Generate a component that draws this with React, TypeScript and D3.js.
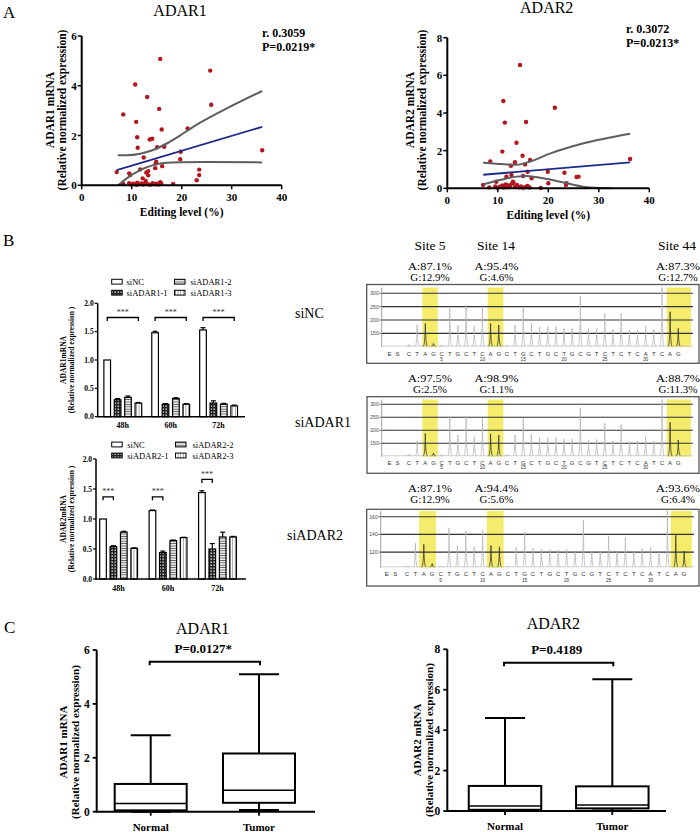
import React from "react";
import * as d3 from "d3";

const SERIF = "'Liberation Serif','Times New Roman',serif";
const SANS = "'Liberation Sans',Arial,sans-serif";

// ---------- Panel A data ----------
const adar1Scatter: [number, number][] = [
  [15.7, 5.08], [25.7, 4.61], [10.7, 4.05], [13.1, 3.55], [25.9, 3.24], [15.5, 3.07], [8.3, 2.85],
  [10.9, 2.55], [16.0, 2.24], [21.2, 2.28], [11.1, 1.93], [13.6, 1.84], [14.1, 1.87], [11.2, 1.51],
  [15.1, 1.53], [16.5, 1.55], [36.1, 1.41], [19.8, 1.35], [12.4, 1.12], [14.9, 0.95], [14.8, 0.88],
  [19.7, 1.05], [7.0, 0.53], [9.5, 0.48], [9.7, 0.41], [11.7, 0.64], [12.9, 0.51], [13.3, 0.57],
  [13.3, 0.40], [12.2, 0.28], [14.7, 0.69], [16.1, 0.77], [23.5, 0.63], [23.5, 0.41], [23.0, 0.20],
  [12.8, 0.17], [8.3, 0.05], [9.5, 0.08], [9.9, 0.03], [10.3, 0.06], [10.9, 0.02], [11.1, 0.10],
  [11.4, 0.04], [11.9, 0.07], [12.3, 0.03], [12.7, 0.09], [13.1, 0.05], [13.7, 0.02], [14.2, 0.08],
  [14.7, 0.04], [15.0, 0.06], [15.4, 0.03], [15.7, 0.12], [15.9, 0.07], [18.3, 0.05],
];
const adar1Fit: [number, number][] = [[7.0, 0.61], [36.1, 2.35]];
const adar1Upper: [number, number][] = [[7.2, 1.21], [9, 1.21], [11.7, 1.27], [14, 1.4], [17, 1.68], [19.5, 1.98], [22.3, 2.35], [27.7, 2.95], [36.1, 3.79]];
const adar1Lower: [number, number][] = [[7.3, 0], [9, 0.28], [11.7, 0.61], [14.3, 0.81], [17, 0.91], [19.7, 0.93], [25, 0.94], [36.1, 0.92]];

const adar2Scatter: [number, number][] = [
  [14.4, 6.55], [11.1, 4.64], [21.3, 4.28], [11.4, 3.49], [15.6, 3.52], [13.7, 2.42], [10.9, 1.95],
  [14.9, 1.73], [16.4, 1.5], [36.2, 1.56], [8.5, 1.42], [13.4, 1.38], [12.6, 1.2], [15.4, 1.27],
  [15.9, 0.88], [19.9, 0.88], [23.2, 0.83], [26.0, 0.62], [25.6, 0.6], [15.0, 0.65], [12.7, 0.71],
  [16.7, 0.53], [11.7, 0.62], [9.7, 0.35], [7.1, 0.18], [20.0, 0.27], [23.6, 0.27], [23.5, 0.18],
  [8.3, 0.05], [9.5, 0.1], [9.9, 0.03], [10.4, 0.08], [10.9, 0.15], [11.2, 0.04], [11.6, 0.2],
  [12.0, 0.06], [12.4, 0.12], [12.8, 0.25], [13.1, 0.3], [13.4, 0.08], [13.8, 0.18], [14.2, 0.05],
  [14.6, 0.1], [15.0, 0.03], [15.5, 0.07], [15.9, 0.12], [16.3, 0.04], [18.5, 0.02], [13.0, 0.35], [12.2, 0.15],
];
const adar2Fit: [number, number][] = [[7.1, 0.72], [36.2, 1.38]];
const adar2Upper: [number, number][] = [[7.1, 1.36], [9.7, 1.31], [12, 1.26], [13.7, 1.25], [16.4, 1.42], [20.3, 1.84], [27, 2.39], [36.2, 2.9]];
const adar2Lower: [number, number][] = [[7.1, 0.21], [10.4, 0.44], [13.7, 0.62], [15.7, 0.66], [19, 0.53], [23.6, 0.27], [28.3, 0.04], [32.6, 0]];

const editTicks = [0, 10, 20, 30, 40];
const adar1Ticks = [0, 2, 4, 6];
const adar2Ticks = [0, 2, 4, 6, 8];

// ---------- Panel B bars ----------
const timepoints = ["48h", "60h", "72h"];
const kd1Series = ["siNC", "siADAR1-1", "siADAR1-2", "siADAR1-3"];
const kd1Values = [[1.0, 0.30, 0.34, 0.24], [1.48, 0.22, 0.32, 0.22], [1.53, 0.24, 0.22, 0.19]];
const kd1Err = [[0, 0.02, 0.025, 0.01], [0.025, 0.01, 0.015, 0.01], [0.04, 0.04, 0.015, 0.015]];
const kd2Series = ["siNC", "siADAR2-1", "siADAR2-2", "siADAR2-3"];
const kd2Values = [[1.0, 0.54, 0.78, 0.51], [1.14, 0.44, 0.64, 0.69], [1.44, 0.50, 0.70, 0.70]];
const kd2Err = [[0, 0.015, 0.015, 0.01], [0.01, 0.025, 0.01, 0.005], [0.03, 0.09, 0.08, 0.01]];
const kdTicks = [0, 0.5, 1.0, 1.5, 2.0];
const kd1Sig = [{ t: "48h", from: 0, to: 3, v: 1.75 }, { t: "60h", from: 0, to: 3, v: 1.75 }, { t: "72h", from: 0, to: 3, v: 1.75 }];
const kd2Sig = [{ t: "48h", from: 0, to: 1, v: 1.37 }, { t: "60h", from: 0, to: 1, v: 1.37 }, { t: "72h", from: 0, to: 1, v: 1.66 }];

// ---------- Panel B chromatograms ----------
const seqBases = "CTAGCTGCTCAGCTGCTGCTGCGTCTCTCATCAG".split("");
const seqNumbers = [5, 10, 15, 20, 25, 30];
const siteNames = ["Site 5", "Site 14", "Site 44"];
const siNCPct = { A: [87.1, 95.4, 87.3], G: [12.9, 4.6, 12.7] };
const siADAR1Pct = { A: [97.5, 98.9, 88.7], G: [2.5, 1.1, 11.3] };
const siADAR2Pct = { A: [87.1, 94.4, 93.6], G: [12.9, 5.6, 6.4] };
const siNCPeaks = [108, 183, 187, 112, 106, 250, 181, 256, 178, 250, 187, 181, 106, 181, 250, 187, 175, 175, 175, 169, 169, 290, 169, 169, 225, 165, 225, 162, 160, 178, 165, 330, 231, 169];
const siADAR1Peaks = [108, 160, 188, 112, 106, 252, 182, 255, 176, 246, 186, 182, 106, 182, 246, 186, 172, 172, 172, 167, 167, 287, 163, 165, 227, 159, 223, 156, 159, 176, 159, 330, 231, 163];
const siADAR2Peaks = [104, 130, 129, 107, 104, 147, 127, 144, 126, 145, 127.5, 126, 104, 125, 143, 124, 123.4, 123, 122.3, 123, 121.5, 156, 121, 120.4, 138, 120.4, 136.6, 120, 124, 125.3, 120.4, 175, 139, 121];
const gridBig = [150, 200, 250, 300];
const gridSmall = [120, 140, 160];

// ---------- Panel C ----------
const boxCats = ["Normal", "Tumor"];
const adar1Box = [
  { min: 0, q1: 0.05, med: 0.3, q3: 1.03, max: 2.84 },
  { min: 0.06, q1: 0.33, med: 0.8, q3: 2.16, max: 5.1 },
];
const adar2Box = [
  { min: 0, q1: 0.06, med: 0.25, q3: 1.24, max: 4.6 },
  { min: 0.02, q1: 0.13, med: 0.3, q3: 1.22, max: 6.52 },
];

type Pt = [number, number];

function RotLabel({ x, y, text, size, bold = true }: any) {
  return (
    <text transform={`translate(${x},${y}) rotate(-90)`} textAnchor="middle" dominantBaseline="central"
      fontSize={size} fontWeight={bold ? "bold" : "normal"} fontFamily={SERIF}>{text}</text>
  );
}

function Scatter({ pts, fit, upper, lower, x0, x1, yBottom, yTop, yMax, yTicks, title, titleX, titleY, rText, pText, annX, annY, gene, labX, labY }: any) {
  const xs = d3.scaleLinear().domain([0, 40]).range([x0, x1]);
  const ys = d3.scaleLinear().domain([0, yMax]).range([yBottom, yTop]);
  const line = d3.line<Pt>().x((d) => xs(d[0])).y((d) => ys(d[1])).curve(d3.curveMonotoneX);
  return (
    <g>
      <text x={titleX} y={titleY} textAnchor="middle" dominantBaseline="central" fontSize={16}>{title}</text>
      <text x={annX} y={annY} dominantBaseline="central" fontSize={12} fontWeight="bold">{rText}</text>
      <text x={annX} y={annY + 14} dominantBaseline="central" fontSize={12} fontWeight="bold">{pText}</text>
      {pts.map((d: Pt, i: number) => (
        <circle key={i} cx={xs(d[0])} cy={ys(d[1])} r={2.2} fill="#b3161c" />
      ))}
      <path d={line(upper) || ""} fill="none" stroke="#5e5e5e" strokeWidth={2} />
      <path d={line(lower) || ""} fill="none" stroke="#5e5e5e" strokeWidth={2} />
      <path d={line(fit) || ""} fill="none" stroke="#1b2a8a" strokeWidth={1.8} />
      <line x1={x0} x2={x1} y1={yBottom} y2={yBottom} stroke="#000" strokeWidth={2} />
      <line x1={x0} x2={x0} y1={yBottom + 1} y2={yTop} stroke="#000" strokeWidth={2} />
      {editTicks.map((t) => (
        <g key={t}>
          <line x1={xs(t)} x2={xs(t)} y1={yBottom} y2={yBottom + 4} stroke="#000" strokeWidth={1.5} />
          <text x={xs(t)} y={yBottom + 12} textAnchor="middle" dominantBaseline="central" fontSize={11} fontWeight="bold">{t}</text>
        </g>
      ))}
      {yTicks.map((t: number) => (
        <g key={t}>
          <line x1={x0 - 4} x2={x0} y1={ys(t)} y2={ys(t)} stroke="#000" strokeWidth={1.5} />
          <text x={x0 - 5} y={ys(t)} textAnchor="end" dominantBaseline="central" fontSize={11} fontWeight="bold">{t}</text>
        </g>
      ))}
      <text x={(x0 + x1) / 2} y={yBottom + 27} textAnchor="middle" dominantBaseline="central" fontSize={11.5} fontWeight="bold">Editing level (%)</text>
      <RotLabel x={labX} y={labY} text={`${gene} mRNA`} size={11.5} />
      <RotLabel x={labX + 11.5} y={labY} text="(Relative normalized expression)" size={11.5} />
    </g>
  );
}

const patIds = ["patNC", "patK1", "patK2", "patK3"];

function KDBars({ series, values, errs, sig, axisX, axisRight, yBottom, yTop, centers, gene, legY, legX1, legX2, legTX1, legTX2 }: any) {
  const ys = d3.scaleLinear().domain([0, 2]).range([yBottom, yTop]);
  const xc = d3.scalePoint<string>().domain(timepoints).range(centers);
  const inner = d3.scaleBand<string>().domain(series).range([-20.8, 20.8]).paddingInner(0.36).paddingOuter(0.18);
  const bw = inner.bandwidth();
  const bx = (t: string, s: number) => (xc(t) as number) + (inner(series[s]) as number);
  return (
    <g fontFamily={SERIF}>
      {series.map((s: string, i: number) => {
        const col = Math.floor(i / 2);
        const row = i % 2;
        const y = legY + row * 11;
        const bx0 = col === 0 ? legX1 : legX2;
        const tx = col === 0 ? legTX1 : legTX2;
        return (
          <g key={s}>
            <rect x={bx0} y={y - 2.4} width={10.5} height={4.8} fill={`url(#${patIds[i]})`} stroke="#000" strokeWidth={1} />
            <text x={tx} y={y} dominantBaseline="central" fontSize={8.5}>{s}</text>
          </g>
        );
      })}
      {timepoints.map((t, ti) =>
        series.map((s: string, si: number) => {
          const v = values[ti][si];
          const e = errs[ti][si];
          const x = bx(t, si);
          return (
            <g key={t + s}>
              {e > 0 && (
                <g>
                  <line x1={x + bw / 2} x2={x + bw / 2} y1={ys(v)} y2={ys(v + e)} stroke="#000" strokeWidth={1.2} />
                  <line x1={x + bw / 2 - 2.5} x2={x + bw / 2 + 2.5} y1={ys(v + e)} y2={ys(v + e)} stroke="#000" strokeWidth={1.2} />
                </g>
              )}
              <rect x={x} y={ys(v)} width={bw} height={yBottom - ys(v)} fill={`url(#${patIds[si]})`} stroke="#000" strokeWidth={1.2} />
            </g>
          );
        })
      )}
      {sig.map((g: any, i: number) => {
        const xa = bx(g.t, g.from) + bw / 2;
        const xb = bx(g.t, g.to) + bw / 2;
        const y = ys(g.v);
        return (
          <g key={i}>
            <path d={`M${xa},${y + 3.5}V${y}H${xb}V${y + 3.5}`} fill="none" stroke="#000" strokeWidth={1.3} />
            <text x={(xa + xb) / 2} y={y - 5} textAnchor="middle" dominantBaseline="central" fontSize={8} fill="#333">***</text>
          </g>
        );
      })}
      <line x1={axisX} x2={axisRight} y1={yBottom} y2={yBottom} stroke="#000" strokeWidth={1.5} />
      <line x1={axisX} x2={axisX} y1={yBottom + 0.75} y2={yTop} stroke="#000" strokeWidth={1.5} />
      {kdTicks.map((t) => (
        <g key={t}>
          <line x1={axisX - 3} x2={axisX} y1={ys(t)} y2={ys(t)} stroke="#000" strokeWidth={1.2} />
          <text x={axisX - 4} y={ys(t)} textAnchor="end" dominantBaseline="central" fontSize={7.5} fontWeight="bold">{t.toFixed(1)}</text>
        </g>
      ))}
      {timepoints.map((t) => (
        <text key={t} x={xc(t)} y={yBottom + 9} textAnchor="middle" dominantBaseline="central" fontSize={8} fontWeight="bold">{t}</text>
      ))}
      <RotLabel x={63} y={(yBottom + yTop) / 2} text={`${gene}mRNA`} size={7.5} />
      <RotLabel x={71.7} y={(yBottom + yTop) / 2} text="(Relative normalized expression )" size={7.5} />
    </g>
  );
}

function Chromatogram({ boxTop, boxBottom, boxLeft, boxRight, yDomain, yRange, grid, peaks, xStart, step, hl, plotTop, axisX, plotRight, letterY, numY, baseVal, pct, labAY, sideLabel, sideX, sideY }: any) {
  const ys = d3.scaleLinear().domain(yDomain).range(yRange);
  const xp = (p: number) => xStart + (p - 1) * step;
  const base = ys(baseVal);
  const inHl = (p: number) => hl.some((h: number[]) => p >= h[0] && p <= h[1]);
  const siteX = [430, 496.5, 678];
  return (
    <g>
      <text x={sideX} y={sideY} dominantBaseline="central" fontSize={14} fontFamily={SERIF}>{sideLabel}</text>
      {siteX.map((sx, i) => (
        <g key={i} fontFamily={SERIF} fontSize={11}>
          <text x={sx} y={labAY - 0.5} textAnchor="middle" dominantBaseline="central" textLength={i === 0 || i === 2 ? 44 : 44} lengthAdjust="spacingAndGlyphs">{`A:${pct.A[i].toFixed(1)}%`}</text>
          <text x={sx} y={labAY + 10.5} textAnchor="middle" dominantBaseline="central">{`G:${pct.G[i].toFixed(1)}%`}</text>
        </g>
      ))}
      <rect x={boxLeft} y={boxTop} width={boxRight - boxLeft} height={boxBottom - boxTop} fill="#fff" stroke="#555" strokeWidth={1.3} />
      {hl.map((h: number[], i: number) => (
        <rect key={i} x={xp(h[0])} y={plotTop} width={xp(h[1]) - xp(h[0])} height={base - plotTop + 1} fill="#f5ec6c" />
      ))}
      {grid.map((g: number) => (
        <g key={g}>
          <line x1={axisX} x2={plotRight} y1={ys(g)} y2={ys(g)} stroke="#333" strokeWidth={1.1} />
          <line x1={axisX - 2.5} x2={axisX} y1={ys(g)} y2={ys(g)} stroke="#555" strokeWidth={0.8} />
          <text x={axisX - 3} y={ys(g)} textAnchor="end" dominantBaseline="central" fontSize={5} fontFamily={SANS} fill="#444">{g}</text>
        </g>
      ))}
      <line x1={axisX} x2={axisX} y1={plotTop} y2={base + 1} stroke="#888" strokeWidth={0.8} />
      <line x1={axisX} x2={plotRight} y1={base} y2={base} stroke="#c4c4c4" strokeWidth={0.8} />
      {peaks.map((h: number, i: number) => {
        const p = i + 1;
        const x = xp(p);
        const top = Math.max(ys(h), plotTop);
        const dark = inHl(p);
        return (
          <path key={i} d={`M${x - 2},${base} Q${x - 0.3},${base} ${x},${top} Q${x + 0.3},${base} ${x + 2},${base}`}
            fill="none" stroke={dark ? "#333" : "#b4b4b4"} strokeWidth={0.75} />
        );
      })}
      <g fontFamily={SANS} fontSize={6} fill="#333">
        <text x={xp(-1.4)} y={letterY} textAnchor="middle" dominantBaseline="central">E</text>
        <text x={xp(-0.4)} y={letterY} textAnchor="middle" dominantBaseline="central">S</text>
        {seqBases.map((b, i) => (
          <text key={i} x={xp(i + 1)} y={letterY} textAnchor="middle" dominantBaseline="central">{b}</text>
        ))}
        {seqNumbers.map((n) => (
          <text key={n} x={xp(n)} y={numY} textAnchor="middle" dominantBaseline="central" fontSize={4.8}>{n}</text>
        ))}
      </g>
    </g>
  );
}

function BoxPanel({ stats, yMax, yTicks, axisX, axisRight, yBottom, yTop, centers, boxW, capW, title, titleX, titleY, pText, pX, pY, bracketY, gene, labX, labY }: any) {
  const ys = d3.scaleLinear().domain([0, yMax]).range([yBottom, yTop]);
  const xc = d3.scalePoint<string>().domain(boxCats).range(centers);
  return (
    <g>
      <text x={titleX} y={titleY} textAnchor="middle" dominantBaseline="central" fontSize={16}>{title}</text>
      <text x={pX} y={pY} textAnchor="middle" dominantBaseline="central" fontSize={13} fontWeight="bold">{pText}</text>
      <path d={`M${centers[0] - 1},${bracketY + 3.5}V${bracketY}H${centers[1] + 1}V${bracketY + 3.5}`} fill="none" stroke="#000" strokeWidth={2} />
      {stats.map((s: any, i: number) => {
        const cx = xc(boxCats[i]) as number;
        return (
          <g key={i} stroke="#000" strokeWidth={2} fill="none">
            <line x1={cx} x2={cx} y1={ys(s.q3)} y2={ys(s.max)} />
            <line x1={cx - capW / 2} x2={cx + capW / 2} y1={ys(s.max)} y2={ys(s.max)} />
            <line x1={cx} x2={cx} y1={ys(s.q1)} y2={ys(s.min)} />
            <line x1={cx - capW / 2} x2={cx + capW / 2} y1={ys(s.min)} y2={ys(s.min)} />
            <rect x={cx - boxW / 2} y={ys(s.q3)} width={boxW} height={ys(s.q1) - ys(s.q3)} fill="#fff" />
            <line x1={cx - boxW / 2} x2={cx + boxW / 2} y1={ys(s.med)} y2={ys(s.med)} strokeWidth={1.5} />
          </g>
        );
      })}
      <line x1={axisX} x2={axisRight} y1={yBottom} y2={yBottom} stroke="#000" strokeWidth={2} />
      <line x1={axisX} x2={axisX} y1={yBottom + 1} y2={yTop} stroke="#000" strokeWidth={2} />
      {yTicks.map((t: number) => (
        <g key={t}>
          <line x1={axisX - 4} x2={axisX} y1={ys(t)} y2={ys(t)} stroke="#000" strokeWidth={1.8} />
          <text x={axisX - 7} y={ys(t)} textAnchor="end" dominantBaseline="central" fontSize={11.5} fontWeight="bold">{t}</text>
        </g>
      ))}
      {boxCats.map((c) => (
        <g key={c}>
          <line x1={xc(c)} x2={xc(c)} y1={yBottom} y2={yBottom + 4} stroke="#000" strokeWidth={1.8} />
          <text x={xc(c)} y={yBottom + 15} textAnchor="middle" dominantBaseline="central" fontSize={11} fontWeight="bold">{c}</text>
        </g>
      ))}
      <RotLabel x={labX} y={labY} text={`${gene} mRNA`} size={11} />
      <RotLabel x={labX + 12} y={labY} text="(Relative normalized expression)" size={11} />
    </g>
  );
}

export default function App() {
  const hl12 = [[2.63, 4.52], [10.64, 12.56], [32.58, 35.56]];
  const hl3 = [[2.45, 4.45], [10.5, 12.5], [32.4, 34.9]];
  return (
    <svg width={700} height={832} style={{ position: "absolute", left: 0, top: 0, background: "#fff" }} fontFamily={SERIF}>
      <defs>
        <pattern id="patNC" width={4} height={4} patternUnits="userSpaceOnUse">
          <rect width={4} height={4} fill="#fff" />
        </pattern>
        <pattern id="patK1" width={3} height={3} patternUnits="userSpaceOnUse">
          <rect width={3} height={3} fill="#222" />
          <rect x={0.5} y={0.5} width={1.3} height={1.3} fill="#fff" />
        </pattern>
        <pattern id="patK2" width={3} height={2.4} patternUnits="userSpaceOnUse">
          <rect width={3} height={2.4} fill="#fff" />
          <line x1={0} x2={3} y1={1.2} y2={1.2} stroke="#555" strokeWidth={1} />
        </pattern>
        <pattern id="patK3" width={2.6} height={3} patternUnits="userSpaceOnUse">
          <rect width={2.6} height={3} fill="#fff" />
          <line x1={1.3} x2={1.3} y1={0} y2={3} stroke="#777" strokeWidth={0.7} />
        </pattern>
      </defs>
      <rect width={700} height={832} fill="#fff" />

      <text x={3} y={12} dominantBaseline="central" fontSize={17}>A</text>
      <text x={3} y={240} dominantBaseline="central" fontSize={17}>B</text>
      <text x={4} y={627} dominantBaseline="central" fontSize={17}>C</text>

      <Scatter pts={adar1Scatter} fit={adar1Fit} upper={adar1Upper} lower={adar1Lower}
        x0={81.7} x1={281.7} yBottom={185.3} yTop={36} yMax={6} yTicks={adar1Ticks}
        title="ADAR1" titleX={180} titleY={10} rText="r. 0.3059" pText="P=0.0219*" annX={262} annY={33.3}
        gene="ADAR1" labX={50} labY={110} />
      <Scatter pts={adar2Scatter} fit={adar2Fit} upper={adar2Upper} lower={adar2Lower}
        x0={447.3} x1={649.3} yBottom={188.3} yTop={37.7} yMax={8} yTicks={adar2Ticks}
        title="ADAR2" titleX={546.7} titleY={7.5} rText="r. 0.3072" pText="P=0.0213*" annX={626} annY={28.5}
        gene="ADAR2" labX={410} labY={110} />

      <KDBars series={kd1Series} values={kd1Values} errs={kd1Err} sig={kd1Sig}
        axisX={97.7} axisRight={245} yBottom={416.7} yTop={303.3} centers={[122.8, 218.6]} gene="ADAR1"
        legY={281.7} legX1={111.7} legX2={174.5} legTX1={126.5} legTX2={190.5} />
      <KDBars series={kd2Series} values={kd2Values} errs={kd2Err} sig={kd2Sig}
        axisX={96} axisRight={246} yBottom={579} yTop={459} centers={[118.6, 217.5]} gene="ADAR2"
        legY={444.5} legX1={111.7} legX2={175.5} legTX1={127.3} legTX2={192.5} />

      {siteNames.map((s, i) => (
        <text key={s} x={[430, 496, 677][i]} y={245} textAnchor="middle" dominantBaseline="central" fontSize={13.5}>{s}</text>
      ))}
      <Chromatogram boxTop={284.5} boxBottom={363.3} boxLeft={366.7} boxRight={699} yDomain={[100, 300]} yRange={[346.7, 293.3]}
        grid={gridBig} peaks={siNCPeaks} xStart={409} step={8.16} hl={hl12} plotTop={287.5} axisX={381.7} plotRight={693}
        letterY={354} numY={359.5} baseVal={102} pct={siNCPct} labAY={266.7} sideLabel="siNC" sideX={295} sideY={313.3} />
      <Chromatogram boxTop={396.7} boxBottom={473.3} boxLeft={367} boxRight={699} yDomain={[100, 300]} yRange={[456.3, 404.3]}
        grid={gridBig} peaks={siADAR1Peaks} xStart={409} step={8.16} hl={hl12} plotTop={399.5} axisX={381.7} plotRight={693}
        letterY={463.3} numY={467.8} baseVal={102} pct={siADAR1Pct} labAY={378.3} sideLabel="siADAR1" sideX={295} sideY={422.3} />
      <Chromatogram boxTop={509.3} boxBottom={586} boxLeft={366.7} boxRight={699} yDomain={[100, 160]} yRange={[569.8, 516.7]}
        grid={gridSmall} peaks={siADAR2Peaks} xStart={407} step={8.4} hl={hl3} plotTop={511} axisX={380.7} plotRight={694}
        letterY={574} numY={580.5} baseVal={103.4} pct={siADAR2Pct} labAY={488.3} sideLabel="siADAR2" sideX={287} sideY={535} />

      <BoxPanel stats={adar1Box} yMax={6} yTicks={adar1Ticks} axisX={96.7} axisRight={315} yBottom={811.7} yTop={650}
        centers={[150.7, 259]} boxW={72} capW={40} title="ADAR1" titleX={202.7} titleY={628}
        pText="P=0.0127*" pX={203.3} pY={648} bracketY={661.7} gene="ADAR1" labX={62.5} labY={742} />
      <BoxPanel stats={adar2Box} yMax={8} yTicks={adar2Ticks} axisX={447.3} axisRight={666} yBottom={811} yTop={649.3}
        centers={[505, 612.3]} boxW={72.5} capW={40} title="ADAR2" titleX={553.3} titleY={623.3}
        pText="P=0.4189" pX={556.7} pY={649.3} bracketY={662.7} gene="ADAR2" labX={416.5} labY={740} />
    </svg>
  );
}
